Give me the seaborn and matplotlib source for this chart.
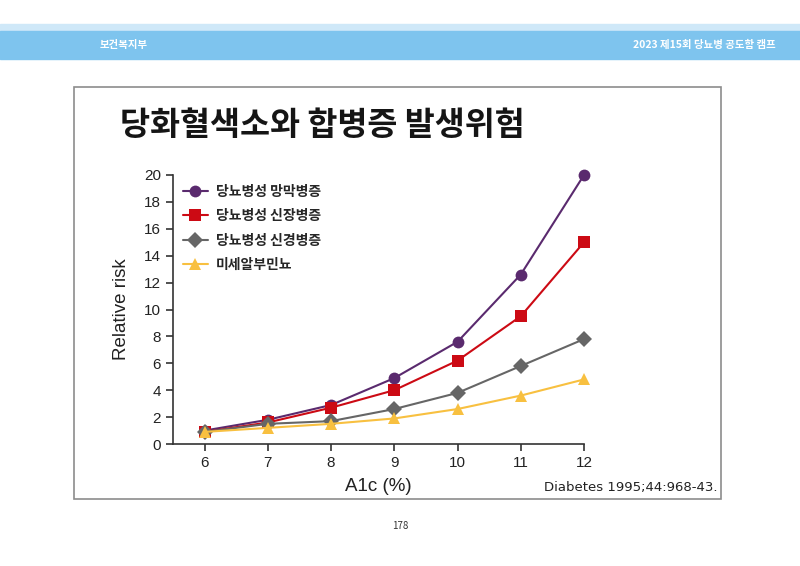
import seaborn as sns
import matplotlib.pyplot as plt
import pandas as pd
from matplotlib.patches import Rectangle

# Values
a1c = [6, 7, 8, 9, 10, 11, 12]
retinopathy = [1.0, 1.8, 2.9, 4.9, 7.6, 12.6, 20.0]
nephropathy = [0.9, 1.6, 2.7, 4.0, 6.2, 9.5, 15.0]
neuropathy = [0.9, 1.5, 1.7, 2.6, 3.8, 5.8, 7.8]
microalbuminuria = [0.9, 1.2, 1.5, 1.9, 2.6, 3.6, 4.8]
series_names = ['당뇨병성 망막병증', '당뇨병성 신장병증', '당뇨병성 신경병증', '미세알부민뇨']
y_ticks = [0, 2, 4, 6, 8, 10, 12, 14, 16, 18, 20]

df = pd.DataFrame({
    'A1c': a1c * 4,
    'risk': retinopathy + nephropathy + neuropathy + microalbuminuria,
    'series': [n for n in series_names for _ in a1c],
})

colors = dict(zip(series_names, ['#5a2a6e', '#cc0a14', '#666666', '#f8c040']))
markers = dict(zip(series_names, ['o', 's', 'D', '^']))

sns.set_theme(style='white')
plt.rcParams['font.family'] = ['Noto Sans CJK KR', 'DejaVu Sans']

fig = plt.figure(figsize=(8, 5.66), dpi=100)
W, H = 800, 566

def px(x0, y0, x1, y1):
    return (x0 / W, 1 - y1 / H, (x1 - x0) / W, (y1 - y0) / H)

# header band
x, y, w, h = px(0, 24, 800, 31)
fig.patches.append(Rectangle((x, y), w, h, transform=fig.transFigure, color='#cfe8f8', zorder=0))
x, y, w, h = px(0, 31, 800, 59)
fig.patches.append(Rectangle((x, y), w, h, transform=fig.transFigure, color='#7ec4ee', zorder=0))
fig.text(100 / W, 1 - 45 / H, '보건복지부', color='white', fontsize=7.5, fontweight='bold', va='center')
fig.text(776 / W, 1 - 45 / H, '2023 제15회 당뇨병 공도함 캠프', color='white', fontsize=7.5,
         fontweight='bold', va='center', ha='right')

# chart frame
x, y, w, h = px(74, 87, 721, 499)
fig.patches.append(Rectangle((x, y), w, h, transform=fig.transFigure, fill=False,
                             edgecolor='#8c8c8c', linewidth=1.2, zorder=0))
fig.text(120 / W, 1 - 126 / H, '당화혈색소와 합병증 발생위험', fontsize=23.5, fontweight='bold',
         va='center', color='#151515')
fig.text(718 / W, 1 - 487 / H, 'Diabetes 1995;44:968-43.', fontsize=9.5, ha='right',
         va='center', family=['Liberation Sans Narrow', 'DejaVu Sans'], color='#222222')
fig.text(400 / W, 1 - 526 / H, '178', fontsize=7, ha='center', va='center', color='#333333')

ax = fig.add_axes(px(173, 175, 584, 444))
sns.lineplot(data=df, x='A1c', y='risk', hue='series', style='series', markers=markers,
             dashes=False, palette=colors, markersize=8.5, linewidth=1.5,
             markeredgewidth=0, ax=ax, clip_on=False)
ax.set_xlim(5.5, 12)
ax.set_ylim(0, 20)
ax.set_xticks(a1c, labels=[str(v) for v in a1c], fontfamily='Liberation Sans')
ax.set_yticks(y_ticks, labels=[str(v) for v in y_ticks], fontfamily='Liberation Sans')
sns.despine(ax=ax)
for s in ['left', 'bottom']:
    ax.spines[s].set_color('#333333')
    ax.spines[s].set_linewidth(1.2)
ax.tick_params(axis='both', direction='out', length=5, width=1.2, color='#333333',
               labelsize=11, labelcolor='#222222', left=True, bottom=True)
ax.set_xlabel('A1c (%)', fontsize=13.5, family='Liberation Sans', color='#222222', labelpad=6)
ax.set_ylabel('Relative risk', fontsize=13.5, family='Liberation Sans', color='#222222', labelpad=10)
leg = ax.legend(loc='upper left', bbox_to_anchor=(0.0, 1.0), frameon=False,
                prop={'family': 'Noto Sans CJK KR', 'weight': 'bold', 'size': 10},
                handlelength=1.8, handletextpad=0.6, labelspacing=0.75, borderaxespad=0.3)

fig.savefig('out.png', dpi=100)
